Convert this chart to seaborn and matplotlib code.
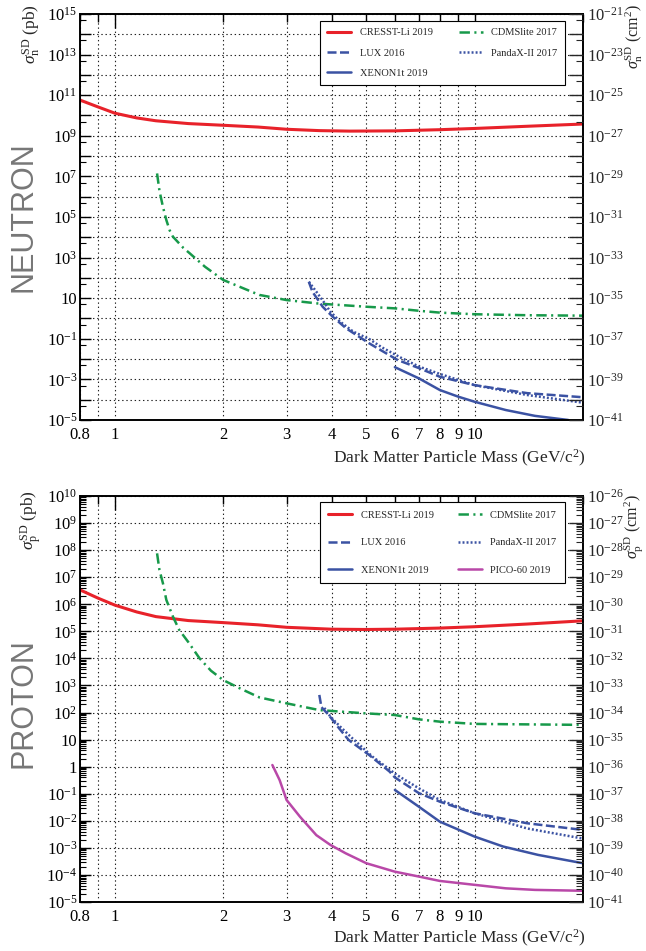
import matplotlib
matplotlib.use("Agg")
import matplotlib.pyplot as plt
from matplotlib.ticker import FixedLocator, FixedFormatter, NullFormatter
import seaborn as sns

# =========================
# DATA
# =========================

# --- neutron panel ---
cresst_n_mass = [0.8, 0.9, 1.0, 1.15, 1.3, 1.6, 2.0, 2.5, 3.0, 3.7, 4.5, 6.0, 8.0, 10.0, 14.0, 20.0]
cresst_n_xs = [5.75e10, 2.6e10, 1.3e10, 7.6e9, 5.5e9, 4.0e9, 3.3e9, 2.7e9, 2.1e9, 1.8e9,
               1.7e9, 1.75e9, 2.0e9, 2.3e9, 2.95e9, 3.8e9]

cdms_n_mass = [1.31, 1.33, 1.36, 1.39, 1.42, 1.45, 1.5, 1.55, 1.61, 1.78, 2.0, 2.52, 2.69,
               3.0, 3.7, 5.0, 6.0, 7.0, 8.0, 10.0, 14.0, 20.0]
cdms_n_xs = [1.4e7, 2.0e6, 3.2e5, 7.1e4, 2.2e4, 1.07e4, 5.6e3, 3.0e3, 1.7e3, 355, 79.4,
             14.5, 11.7, 8.1, 5.4, 3.8, 3.16, 2.4, 1.95, 1.62, 1.45, 1.38]

lux_n_mass = [3.46, 3.54, 3.78, 4.03, 4.39, 5.09, 6.1, 7.0, 8.0, 10.0, 14.0, 20.0]
lux_n_xs = [64.6, 20.9, 3.8, 1.23, 0.33, 0.060, 9.1e-3, 3.6e-3, 1.35e-3, 5.2e-4, 2.1e-4, 1.32e-4]

panda_n_mass = [3.46, 3.63, 3.83, 3.97, 4.23, 4.6, 5.09, 5.52, 6.28, 7.0, 8.0, 10.0, 14.0, 20.0]
panda_n_xs = [64.6, 20.9, 5.6, 2.19, 0.69, 0.224, 0.098, 0.038, 0.011, 4.3e-3, 1.86e-3,
              5.2e-4, 1.7e-4, 7.1e-5]

xenon_n_mass = [6.0, 7.0, 8.0, 9.0, 10.0, 12.2, 14.7, 18.2]
xenon_n_xs = [4.0e-3, 1.12e-3, 3.0e-4, 1.41e-4, 7.9e-5, 3.1e-5, 1.6e-5, 1.0e-5]

# --- proton panel ---
cresst_p_mass = [0.8, 0.9, 1.0, 1.15, 1.3, 1.6, 2.0, 2.5, 3.0, 4.0, 5.0, 6.0, 8.0, 10.0, 14.0, 20.0]
cresst_p_xs = [3.4e6, 1.66e6, 9.3e5, 5.2e5, 3.5e5, 2.5e5, 2.1e5, 1.74e5, 1.41e5, 1.2e5,
               1.17e5, 1.2e5, 1.32e5, 1.48e5, 1.86e5, 2.45e5]

cdms_p_mass = [1.31, 1.33, 1.36, 1.39, 1.45, 1.51, 1.6, 1.72, 1.85, 2.0, 2.22, 2.52, 3.0, 3.7,
               5.0, 6.0, 7.0, 8.0, 10.0, 20.0]
cdms_p_xs = [7.6e7, 1.86e7, 6.0e6, 1.45e6, 3.5e5, 1.12e5, 4.0e4, 1.0e4, 3.5e3, 1.58e3, 794,
             363, 219, 123, 93, 81, 56, 46, 38, 35]

lux_p_mass = [3.7, 3.75, 3.93, 4.2, 4.46, 5.09, 5.8, 6.0, 7.0, 8.0, 10.0, 14.0, 20.0]
lux_p_xs = [447, 158, 81, 26, 9.8, 2.7, 0.66, 0.40, 0.105, 0.051, 0.019, 8.1e-3, 4.6e-3]

panda_p_mass = [3.82, 3.97, 4.23, 4.57, 5.2, 6.08, 7.0, 8.0, 10.0, 14.0, 20.0]
panda_p_xs = [148, 71, 30, 11.2, 2.34, 0.49, 0.158, 0.059, 0.019, 5.2e-3, 2.2e-3]

xenon_p_mass = [6.0, 7.0, 8.0, 10.0, 12.0, 15.0, 20.0]
xenon_p_xs = [0.138, 0.033, 9.3e-3, 2.6e-3, 1.12e-3, 5.5e-4, 2.7e-4]

pico_p_mass = [2.74, 2.87, 3.0, 3.27, 3.63, 3.97, 4.38, 5.0, 6.0, 7.0, 8.0, 10.0, 12.2, 14.7, 20.0]
pico_p_xs = [1.15, 0.32, 0.059, 0.0141, 2.95e-3, 1.29e-3, 6.3e-4, 2.7e-4, 1.32e-4, 8.7e-5,
             6.0e-5, 4.3e-5, 3.2e-5, 2.8e-5, 2.6e-5]

# axis ticks / labels
x_minor_ticks = [0.8, 0.9, 2, 3, 4, 5, 6, 7, 8, 9, 20]
x_minor_labels = ["0.8", "", "2", "3", "4", "5", "6", "7", "8", "9", ""]
x_major_ticks = [1, 10]
x_major_labels = ["1", "10"]


def dec_label(n):
    if n == 0:
        return "1"
    if n == 1:
        return "10"
    return r"$10^{%d}$" % n


# =========================
# STYLE
# =========================
sns.set_style("white")
plt.rcParams["font.family"] = ["Liberation Serif", "DejaVu Serif"]
plt.rcParams["mathtext.fontset"] = "custom"
plt.rcParams["mathtext.rm"] = "Liberation Serif"
plt.rcParams["mathtext.it"] = "Liberation Serif:italic"
plt.rcParams["mathtext.bf"] = "Liberation Serif:bold"
plt.rcParams["lines.scale_dashes"] = False

RED = "#e8222a"
GREEN = "#17994a"
BLUE = "#3b52a3"
MAGENTA = "#b948a8"

DASHDOT = (0, (7.5, 3.2, 1.5, 3.2))
DASHED = (0, (6.5, 2.5))
DOTTED = (0, (1.4, 1.5))
TICK_FS = 12

fig = plt.figure(figsize=(6.46, 9.51), dpi=100)
ax_n = fig.add_axes([80 / 646, 1 - 420 / 951, 503 / 646, 406 / 951])
ax_p = fig.add_axes([80 / 646, 1 - 902 / 951, 503 / 646, 406 / 951])


def draw(ax, mass, xs, color, ls, label, lw=1.8):
    sns.lineplot(x=mass, y=xs, ax=ax, color=color, linewidth=lw, errorbar=None, legend=False)
    line = ax.lines[-1]
    line.set_linestyle(ls)
    line.set_label(label)
    return line


def setup_panel(ax, lo, hi, left_step, r_lo, r_hi, r_step, minor_subs):
    ax.set_xscale("log")
    ax.set_yscale("log")
    ax.set_xlim(0.8, 20)
    ax.set_ylim(10.0 ** lo, 10.0 ** hi)

    ax.xaxis.set_major_locator(FixedLocator(x_major_ticks))
    ax.xaxis.set_major_formatter(FixedFormatter(x_major_labels))
    ax.xaxis.set_minor_locator(FixedLocator(x_minor_ticks))
    ax.xaxis.set_minor_formatter(FixedFormatter(x_minor_labels))

    decs = list(range(lo, hi + 1))
    ax.yaxis.set_major_locator(FixedLocator([10.0 ** d for d in decs]))
    ax.yaxis.set_major_formatter(FixedFormatter(
        [dec_label(d) if (hi - d) % left_step == 0 else "" for d in decs]))
    minors = [s * 10.0 ** d for d in decs[:-1] for s in minor_subs]
    ax.yaxis.set_minor_locator(FixedLocator(minors))
    ax.yaxis.set_minor_formatter(NullFormatter())

    ax.grid(True, which="major", axis="y", ls=(0, (1, 2)), color="#222222", lw=0.8)
    ax.grid(True, which="both", axis="x", ls=(0, (1, 2)), color="#222222", lw=0.8)

    ax.tick_params(axis="both", which="both", direction="in", top=True, right=False,
                   labelsize=TICK_FS, colors="black", pad=5)
    ax.tick_params(axis="x", which="major", length=10, width=1)
    ax.tick_params(axis="x", which="minor", length=6, width=1)
    ax.tick_params(axis="y", which="major", length=8, width=1, pad=2)
    ax.tick_params(axis="y", which="minor", length=4, width=0.8)
    for s in ax.spines.values():
        s.set_color("black")
        s.set_linewidth(1.4)

    ax2 = ax.twinx()
    ax2.set_yscale("log")
    ax2.set_ylim(10.0 ** r_lo, 10.0 ** r_hi)
    rdecs = list(range(r_lo, r_hi + 1))
    ax2.yaxis.set_major_locator(FixedLocator([10.0 ** d for d in rdecs]))
    ax2.yaxis.set_major_formatter(FixedFormatter(
        [r"$10^{%d}$" % d if (r_hi - d) % r_step == 0 else "" for d in rdecs]))
    rminors = [s * 10.0 ** d for d in rdecs[:-1] for s in minor_subs]
    ax2.yaxis.set_minor_locator(FixedLocator(rminors))
    ax2.yaxis.set_minor_formatter(NullFormatter())
    ax2.tick_params(axis="y", which="both", direction="in", left=False, right=True,
                    labelsize=TICK_FS, pad=3)
    ax2.tick_params(axis="y", which="major", length=10, width=1)
    ax2.tick_params(axis="y", which="minor", length=5, width=0.8)
    ax2.grid(False)
    for s in ax2.spines.values():
        s.set_visible(False)
    return ax2


# =========================
# NEUTRON PANEL
# =========================
setup_panel(ax_n, -5, 15, 2, -41, -21, 2, [5])
h_cresst = draw(ax_n, cresst_n_mass, cresst_n_xs, RED, "-", "CRESST-Li 2019", lw=2.2)
h_cdms = draw(ax_n, cdms_n_mass, cdms_n_xs, GREEN, DASHDOT, "CDMSlite 2017")
h_lux = draw(ax_n, lux_n_mass, lux_n_xs, BLUE, DASHED, "LUX 2016")
h_panda = draw(ax_n, panda_n_mass, panda_n_xs, BLUE, DOTTED, "PandaX-II 2017")
h_xenon = draw(ax_n, xenon_n_mass, xenon_n_xs, BLUE, "-", "XENON1t 2019")

leg = ax_n.legend([h_cresst, h_lux, h_xenon, h_cdms, h_panda],
                  ["CRESST-Li 2019", "LUX 2016", "XENON1t 2019", "CDMSlite 2017", "PandaX-II 2017"],
                  ncol=2, loc="upper left", bbox_to_anchor=(0.477, 0.825, 0.487, 0.158),
                  mode="expand", fontsize=7.5, frameon=True, fancybox=False,
                  edgecolor="black", framealpha=1, labelspacing=1.05, handlelength=2.3,
                  borderaxespad=0, borderpad=0.7)
leg.get_frame().set_linewidth(0.8)

# =========================
# PROTON PANEL
# =========================
setup_panel(ax_p, -5, 10, 1, -41, -26, 1, [2, 3, 4, 5, 6, 7, 8, 9])
p_cresst = draw(ax_p, cresst_p_mass, cresst_p_xs, RED, "-", "CRESST-Li 2019", lw=2.2)
p_cdms = draw(ax_p, cdms_p_mass, cdms_p_xs, GREEN, DASHDOT, "CDMSlite 2017")
p_lux = draw(ax_p, lux_p_mass, lux_p_xs, BLUE, DASHED, "LUX 2016")
p_panda = draw(ax_p, panda_p_mass, panda_p_xs, BLUE, DOTTED, "PandaX-II 2017")
p_xenon = draw(ax_p, xenon_p_mass, xenon_p_xs, BLUE, "-", "XENON1t 2019")
p_pico = draw(ax_p, pico_p_mass, pico_p_xs, MAGENTA, "-", "PICO-60 2019")

leg = ax_p.legend([p_cresst, p_lux, p_xenon, p_cdms, p_panda, p_pico],
                  ["CRESST-Li 2019", "LUX 2016", "XENON1t 2019", "CDMSlite 2017",
                   "PandaX-II 2017", "PICO-60 2019"],
                  ncol=2, loc="upper left", bbox_to_anchor=(0.477, 0.79, 0.487, 0.195),
                  mode="expand", fontsize=7.5, frameon=True, fancybox=False,
                  edgecolor="black", framealpha=1, labelspacing=1.75, handlelength=2.3,
                  borderaxespad=0, borderpad=0.8)
leg.get_frame().set_linewidth(0.8)

# =========================
# LABELS
# =========================
fig.text(31 / 646, 1 - 4 / 951, r"$\sigma_{\rm n}^{\rm SD}$ (pb)", rotation=90,
         ha="center", va="top", fontsize=12.5)
fig.text(634 / 646, 1 - 4 / 951, r"$\sigma_{\rm n}^{\rm SD}$ (cm$^2$)", rotation=90,
         ha="center", va="top", fontsize=11.5)
fig.text(31 / 646, 1 - 490 / 951, r"$\sigma_{\rm p}^{\rm SD}$ (pb)", rotation=90,
         ha="center", va="top", fontsize=12.5)
fig.text(634 / 646, 1 - 494 / 951, r"$\sigma_{\rm p}^{\rm SD}$ (cm$^2$)", rotation=90,
         ha="center", va="top", fontsize=11.5)

for yc in [458, 938]:
    fig.text(586 / 646, 1 - yc / 951, r"Dark Matter Particle Mass (GeV/c$^2$)",
             ha="right", va="center", fontsize=12.5)

fig.text(24 / 646, 1 - 217 / 951, "NEUTRON", rotation=90, ha="center", va="center",
         fontsize=22, color="#777777", family=["Liberation Sans", "DejaVu Sans"])
fig.text(24 / 646, 1 - 703 / 951, "PROTON", rotation=90, ha="center", va="center",
         fontsize=22, color="#777777", family=["Liberation Sans", "DejaVu Sans"])

fig.savefig("out.png", dpi=100)
